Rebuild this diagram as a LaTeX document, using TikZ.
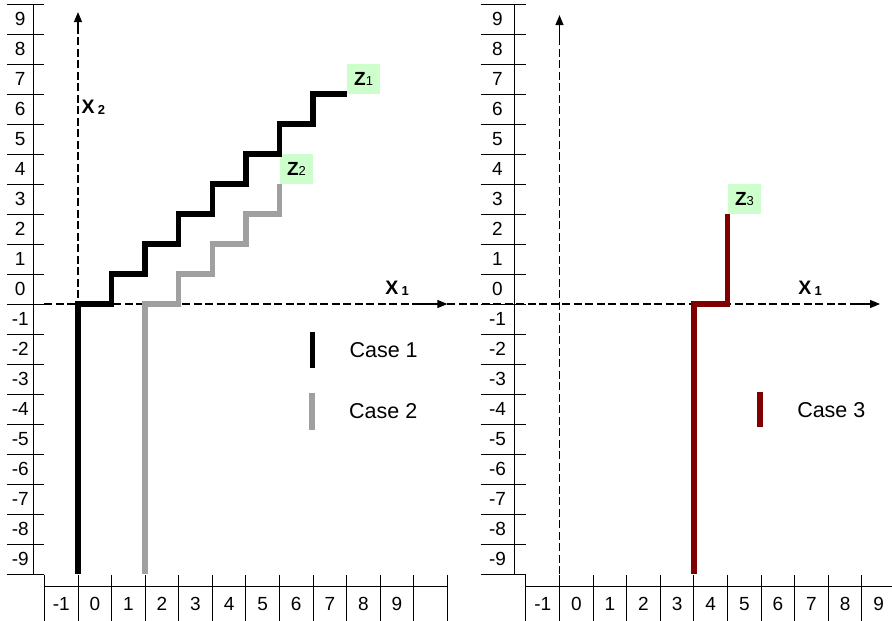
\documentclass[tikz,border=0pt]{standalone}
\usepackage{fontspec}
\setmainfont{Liberation Sans}
\usetikzlibrary{arrows.meta}
\definecolor{zgreen}{RGB}{204,255,204}
\definecolor{casetwo}{RGB}{160,160,160}
\definecolor{casethree}{RGB}{128,0,0}
\tikzset{
  gridline/.style={line width=1pt},
  numlabel/.style={font=\fontsize{19}{19}\selectfont, inner sep=0pt},
  axisdash/.style={line width=1.3pt, dash pattern=on 8pt off 3.5pt},
  axisarrow/.style={line width=1.2pt, -{Triangle[length=10pt,width=8pt]}},
  stairs/.style={line width=5.5pt, line join=miter},
  zlabel/.style={fill=zgreen, minimum width=33.6pt, minimum height=30pt, inner sep=0pt, anchor=south west, font=\fontsize{19}{19}\selectfont},
  xlabel/.style={font=\fontsize{19.5}{19.5}\selectfont, inner sep=0pt},
  casebar/.style={shape=rectangle, minimum width=5.5pt, inner sep=0pt},
  casetext/.style={font=\fontsize{21.5}{21.5}\selectfont, inner sep=0pt, xshift=34pt}
}
\newcommand{\zsub}[1]{\textbf{Z}{\fontsize{13}{13}\selectfont\raisebox{-0.5pt}{#1}}}
\newcommand{\xsub}[1]{\textbf{X}\,{\fontsize{13}{13}\selectfont\bfseries\raisebox{-0.5pt}{#1}}}
\begin{document}
\begin{tikzpicture}[x=1pt, y=-1pt]
\useasboundingbox (0,0) rectangle (892,621);
% left panel: cases 1 and 2
\begin{scope}[xshift=78pt, yshift=-304pt, x=33.58pt, y=30pt]
\foreach \r in {-9,...,10} \draw[gridline] (-2.11,\r) -- (-1,\r);
\draw[gridline] (-1.34,-9) -- (-1.34,10);
\foreach \r in {-9,...,9} \node[numlabel] (lrow\r) at (-1.72,\r+0.5) {\r};
\draw[gridline] (-1,-9.43) -- (11,-9.43);
\foreach \c in {-1,...,11} \draw[gridline] (\c,-9.03) -- (\c,-10.6);
\foreach \c in {-1,...,9} \node[numlabel] (lcol\c) at (\c+0.5,-10) {\c};
\coordinate (lx1start) at (-1,0);
\coordinate (lx1mid) at (10,0);
\coordinate (lx1tip) at (11,0);
\coordinate (lx2start) at (0,-9);
\coordinate (lx2mid) at (0,9);
\coordinate (lx2tip) at (0,9.73);
\draw[axisdash] (lx1start) -- (lx1mid);
\draw[axisarrow] (lx1mid) -- (lx1tip);
\draw[axisdash] (lx2start) -- (lx2mid);
\draw[axisarrow] (lx2mid) -- (lx2tip);
\node[xlabel] (lx1) at (9.5,0.53) {\xsub{1}};
\node[xlabel, anchor=west] (lx2) at (0.1,6.55) {\xsub{2}};
\node[zlabel] (z1) at (8,7) {\zsub{1}};
\node[zlabel] (z2) at (6,4) {\zsub{2}};
\draw[stairs, black] (0,-9) |- (1,0) |- (2,1) |- (3,2) |- (4,3) |- (5,4) |- (6,5) |- (7,6) |- (z1.south west);
\draw[stairs, casetwo] (2,-9) |- (3,0) |- (4,1) |- (5,2) |- (6,3) -- (z2.south west);
\node[casebar, fill=black, minimum height=36pt, label={[casetext]right:Case 1}] (case1) at (6.98,-1.53) {};
\node[casebar, fill=casetwo, minimum height=37pt, label={[casetext]right:Case 2}] (case2) at (6.97,-3.58) {};
\end{scope}
% right panel: case 3
\begin{scope}[xshift=559.5pt, yshift=-304pt, x=33.6pt, y=30pt]
\foreach \r in {-9,...,10} \draw[gridline] (-2.34,\r) -- (-1,\r);
\draw[gridline] (-1.35,-9) -- (-1.35,10);
\foreach \r in {-9,...,9} \node[numlabel] (rrow\r) at (-1.845,\r+0.5) {\r};
\draw[gridline] (-1,-9.43) -- (10,-9.43);
\foreach \c in {-1,...,10} \draw[gridline] (\c,-9.03) -- (\c,-10.6);
\foreach \c in {-1,...,9} \node[numlabel] (rcol\c) at (\c+0.5,-10) {\c};
\coordinate (rx1mid) at (8.65,0);
\coordinate (rx1tip) at (9.54,0);
\coordinate (rx2start) at (0,-9);
\coordinate (rx2mid) at (0,8.9);
\coordinate (rx2tip) at (0,9.63);
\draw[axisdash] (lx1tip) -- (rx1mid);
\draw[axisarrow] (rx1mid) -- (rx1tip);
\draw[axisdash] (rx2start) -- (rx2mid);
\draw[axisarrow] (rx2mid) -- (rx2tip);
\node[xlabel] (rx1) at (7.46,0.53) {\xsub{1}};
\node[zlabel] (z3) at (5,3) {\zsub{3}};
\draw[stairs, casethree] (4,-9) |- (5,0) -- (z3.south west);
\node[casebar, fill=casethree, minimum height=35pt, label={[casetext]right:Case 3}] (case3) at (5.97,-3.52) {};
\end{scope}
\end{tikzpicture}
\end{document}
